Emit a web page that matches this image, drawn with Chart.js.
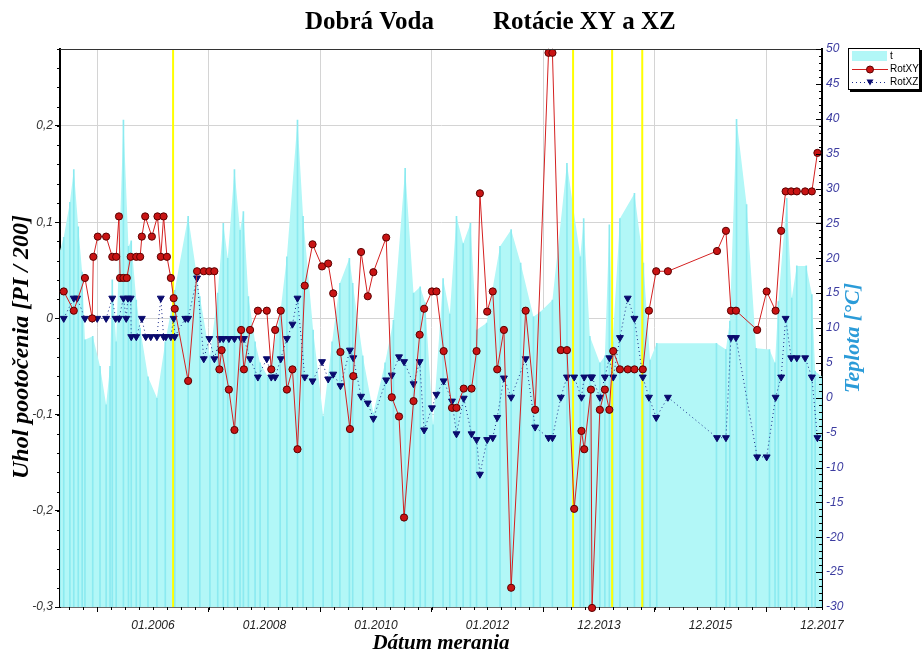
<!DOCTYPE html>
<html>
<head>
<meta charset="utf-8">
<title>Dobrá Voda – Rotácie XY a XZ</title>
<script src="https://cdn.jsdelivr.net/npm/chart.js@4/dist/chart.umd.min.js"></script>
<style>
  html, body { margin: 0; padding: 0; background: #fff; }
</style>
</head>
<body>
<canvas id="rot" width="922" height="655"></canvas>
<script>
// measurement dates (decimal years) and rotations [PI/200]
const xyDates = [
  2004.40, 2004.58, 2004.78, 2004.91, 2004.93, 2005.01, 2005.16, 2005.27, 2005.34, 2005.39,
  2005.41, 2005.47, 2005.53, 2005.60, 2005.70, 2005.77, 2005.80, 2005.86, 2005.98, 2006.08,
  2006.14, 2006.19, 2006.25, 2006.32, 2006.37, 2006.39, 2006.63, 2006.79, 2006.91, 2007.01,
  2007.10, 2007.19, 2007.23, 2007.36, 2007.46, 2007.58, 2007.63, 2007.74, 2007.88, 2008.04,
  2008.12, 2008.19, 2008.29, 2008.40, 2008.50, 2008.59, 2008.72, 2008.86, 2009.03, 2009.14,
  2009.23, 2009.36, 2009.53, 2009.59, 2009.73, 2009.85, 2009.95, 2010.18, 2010.28, 2010.41,
  2010.50, 2010.67, 2010.78, 2010.86, 2011.00, 2011.08, 2011.21, 2011.36, 2011.44, 2011.57,
  2011.71, 2011.80, 2011.86, 2011.99, 2012.09, 2012.17, 2012.29, 2012.42, 2012.68, 2012.85,
  2013.09, 2013.16, 2013.31, 2013.42, 2013.55, 2013.68, 2013.73, 2013.85, 2013.87, 2014.01,
  2014.10, 2014.18, 2014.25, 2014.37, 2014.51, 2014.63, 2014.78, 2014.89, 2015.02, 2015.23,
  2016.11, 2016.27, 2016.36, 2016.45, 2016.83, 2017.00, 2017.16, 2017.26, 2017.34, 2017.44,
  2017.54, 2017.69, 2017.81, 2017.91
];
const rotXY = [
  0.028, 0.008, 0.042, 0.000, 0.064, 0.085, 0.085, 0.064, 0.064, 0.106,
  0.042, 0.042, 0.042, 0.064, 0.064, 0.064, 0.085, 0.106, 0.085, 0.106,
  0.064, 0.106, 0.064, 0.042, 0.021, 0.010, -0.065, 0.049, 0.049, 0.049,
  0.049, -0.053, -0.033, -0.074, -0.116, -0.012, -0.053, -0.012, 0.008, 0.008,
  -0.053, -0.012, 0.008, -0.074, -0.053, -0.136, 0.034, 0.077, 0.054, 0.057,
  0.026, -0.035, -0.115, -0.060, 0.069, 0.023, 0.048, 0.084, -0.082, -0.102,
  -0.207, -0.086, -0.017, 0.010, 0.028, 0.028, -0.034, -0.093, -0.093, -0.073,
  -0.073, -0.034, 0.130, 0.007, 0.028, -0.053, -0.012, -0.280, 0.008, -0.095,
  0.276, 0.276, -0.033, -0.033, -0.198, -0.117, -0.136, -0.074, -0.301, -0.095,
  -0.074, -0.095, -0.034, -0.053, -0.053, -0.053, -0.053, 0.008, 0.049, 0.049,
  0.070, 0.091, 0.008, 0.008, -0.012, 0.028, 0.008, 0.091, 0.132, 0.132,
  0.132, 0.132, 0.132, 0.172
];
const xzDates = [
  2004.40, 2004.58, 2004.64, 2004.78, 2004.91, 2005.00, 2005.16, 2005.27, 2005.33, 2005.39,
  2005.47, 2005.52, 2005.55, 2005.60, 2005.61, 2005.70, 2005.80, 2005.87, 2005.96, 2006.07,
  2006.14, 2006.19, 2006.23, 2006.32, 2006.37, 2006.39, 2006.58, 2006.63, 2006.79, 2006.91,
  2007.01, 2007.10, 2007.20, 2007.26, 2007.36, 2007.46, 2007.58, 2007.63, 2007.74, 2007.88,
  2008.04, 2008.12, 2008.19, 2008.29, 2008.40, 2008.50, 2008.59, 2008.72, 2008.86, 2009.03,
  2009.14, 2009.23, 2009.36, 2009.53, 2009.59, 2009.73, 2009.85, 2009.95, 2010.18, 2010.28,
  2010.41, 2010.50, 2010.67, 2010.78, 2010.86, 2011.00, 2011.08, 2011.21, 2011.36, 2011.44,
  2011.57, 2011.71, 2011.80, 2011.86, 2011.99, 2012.09, 2012.17, 2012.29, 2012.42, 2012.68,
  2012.85, 2013.09, 2013.16, 2013.31, 2013.42, 2013.55, 2013.68, 2013.73, 2013.85, 2013.87,
  2014.01, 2014.10, 2014.18, 2014.25, 2014.37, 2014.51, 2014.63, 2014.78, 2014.89, 2015.02,
  2015.23, 2016.11, 2016.27, 2016.36, 2016.45, 2016.83, 2017.00, 2017.16, 2017.26, 2017.34,
  2017.44, 2017.54, 2017.69, 2017.81, 2017.91
];
const rotXZ = [
  0.000, 0.021, 0.021, 0.000, 0.000, 0.000, 0.000, 0.021, 0.000, 0.000,
  0.021, 0.000, 0.021, 0.021, -0.019, -0.019, 0.000, -0.019, -0.019, -0.019,
  0.021, -0.019, -0.019, -0.019, 0.000, -0.019, 0.000, 0.000, 0.042, -0.042,
  -0.021, -0.042, -0.021, -0.021, -0.021, -0.021, -0.021, -0.021, -0.042, -0.061,
  -0.042, -0.061, -0.061, -0.042, -0.021, -0.006, 0.021, -0.061, -0.065, -0.045,
  -0.063, -0.058, -0.070, -0.033, -0.041, -0.081, -0.088, -0.104, -0.064, -0.059,
  -0.040, -0.045, -0.068, -0.045, -0.116, -0.093, -0.079, -0.065, -0.086, -0.120,
  -0.083, -0.120, -0.126, -0.162, -0.126, -0.124, -0.103, -0.062, -0.082, -0.042,
  -0.113, -0.124, -0.124, -0.082, -0.061, -0.061, -0.082, -0.061, -0.061, -0.061,
  -0.082, -0.061, -0.041, -0.061, -0.020, 0.021, 0.000, -0.061, -0.082, -0.103,
  -0.082, -0.124, -0.124, -0.020, -0.020, -0.144, -0.144, -0.082, -0.061, 0.000,
  -0.041, -0.041, -0.041, -0.061, -0.124
];

// air temperature t [°C]
const tempDates = [
  2004.33, 2004.40, 2004.51, 2004.58, 2004.66, 2004.73, 2004.78, 2004.92, 2005.05, 2005.16,
  2005.23, 2005.27, 2005.34, 2005.47, 2005.56, 2005.61, 2005.70, 2005.77, 2005.91, 2006.07,
  2006.22, 2006.39, 2006.63, 2006.84, 2007.02, 2007.16, 2007.26, 2007.34, 2007.46, 2007.56,
  2007.62, 2007.71, 2007.83, 2007.92, 2008.06, 2008.28, 2008.40, 2008.59, 2008.69, 2008.87,
  2009.05, 2009.21, 2009.35, 2009.52, 2009.58, 2009.76, 2009.95, 2010.16, 2010.31, 2010.52,
  2010.67, 2010.79, 2010.88, 2011.02, 2011.20, 2011.32, 2011.44, 2011.56, 2011.69, 2011.80,
  2011.98, 2012.22, 2012.42, 2012.59, 2012.82, 2012.94, 2013.16, 2013.42, 2013.66, 2013.72,
  2013.83, 2014.01, 2014.10, 2014.18, 2014.24, 2014.37, 2014.63, 2014.79, 2014.91, 2015.03,
  2016.10, 2016.27, 2016.34, 2016.46, 2016.64, 2016.81, 2017.05, 2017.15, 2017.21, 2017.36,
  2017.45, 2017.54, 2017.71, 2017.81, 2017.87, 2017.99
];
const tempValues = [
  21, 23, 28, 32.7, 24.5, 18, 8.3, 8.8, 4.5, -1,
  4.5, 16.9, 8, 39.8, 21.7, 22.5, 14, 10, 3, 0,
  8, 15.4, 26, 14.5, 6, 15, 25, 20, 32.7, 24,
  26.7, 14.5, 8, 5, 3, 12, 20.2, 39.8, 26, 9.7,
  -2.7, 8, 16.4, 20, 16.4, 6, -2.2, 5, 11.1, 32.9,
  15, 15.9, 13.6, -3.9, 17.1, 12, 26, 22.1, 25, 9.7,
  10.7, 21.7, 24.1, 19.3, 11.6, 12.3, 14, 33.6, 20.2, 25.7,
  8.8, 5, 6, 24.8, 8, 25.7, 29.3, 19.3, 5.4, 7.8,
  7.8, 6.9, 11, 39.9, 27.7, 7.1, 6.9, 5, 13.8, 28.6,
  14.3, 18.9, 18.9, 14.8, 3.8, 3
];

// dates marked with vertical lines
const markerDates = [2006.36, 2013.53, 2014.23, 2014.77];

// axis ticks
const xTickYears = [2006, 2007.9986, 2009.9973, 2011.9959, 2013.9945, 2015.9932, 2017.9918];
const xTickLabels = ['01.2006', '01.2008', '01.2010', '01.2012', '12.2013', '12.2015', '12.2017'];
const rotTicks = [-0.3, -0.2, -0.1, 0, 0.1, 0.2];
const rotTickLabels = ['-0,3', '-0,2', '-0,1', '0', '0,1', '0,2'];
const tempTicks = [-30, -25, -20, -15, -10, -5, 0, 5, 10, 15, 20, 25, 30, 35, 40, 45, 50];

const X_MIN = 2004.333, X_MAX = 2017.992;
const ROT_MIN = -0.3, ROT_MAX = 0.28;

const pts = (xs, ys) => xs.map((d, i) => ({ x: d, y: ys[i] }));

const SANS = '"Liberation Sans", Arial, sans-serif';
const SERIF = '"Liberation Serif", "Times New Roman", serif';
const AREA = 'rgb(178, 247, 247)';
const STRIPE = 'rgb(140, 234, 240)';
const XY_LINE = '#d42020', XY_FILL = '#c81414', XY_EDGE = '#5a0000';
const XZ_LINE = '#1a2a8a', XZ_FILL = '#0a0a6e';

// vertical marker lines spanning the whole rotation axis
const markerSets = markerDates.map(d => ({
  type: 'line',
  data: [{ x: d, y: ROT_MIN }, { x: d, y: ROT_MAX }],
  yAxisID: 'y',
  borderColor: '#ffff00',
  borderWidth: 2,
  pointRadius: 0,
  order: 3
}));

// frame, minor ticks, titles and legend
const decor = {
  id: 'decor',
  afterDraw(chart) {
    const { ctx, chartArea: a, scales } = chart;
    const x = scales.x, y = scales.y, y2 = scales.y2;
    ctx.save();

    ctx.strokeStyle = '#333';
    ctx.lineWidth = 1;
    ctx.beginPath();
    ctx.moveTo(a.left, a.top + 0.5);
    ctx.lineTo(a.right, a.top + 0.5);
    ctx.stroke();

    ctx.strokeStyle = '#000';
    ctx.beginPath();
    // minor ticks: x outward, left axis outward
    const xStep = (xTickYears[1] - xTickYears[0]) / 8;
    for (let k = -8; k <= 56; k++) {
      const v = xTickYears[0] + k * xStep;
      if (v < X_MIN || v > X_MAX + 1e-6) continue;
      const px = Math.round(x.getPixelForValue(v)) + 0.5;
      ctx.moveTo(px, a.bottom);
      ctx.lineTo(px, a.bottom + 3);
    }
    for (let k = 0; k <= 29; k++) {
      const py = Math.round(y.getPixelForValue(ROT_MIN + k * 0.02)) + 0.5;
      ctx.moveTo(a.left - 3, py);
      ctx.lineTo(a.left, py);
    }
    // temperature axis ticks point into the plot
    for (let v = -30; v <= 50; v++) {
      const py = Math.round(y2.getPixelForValue(v)) + 0.5;
      const len = v % 5 === 0 ? 6 : 3;
      ctx.moveTo(a.right - len, py);
      ctx.lineTo(a.right, py);
    }
    ctx.stroke();

    // chart title
    ctx.fillStyle = '#000';
    ctx.textBaseline = 'middle';
    ctx.textAlign = 'left';
    ctx.font = 'bold 25px ' + SERIF;
    ctx.fillText('Dobrá Voda', 305, 23);
    ctx.fillText('Rotácie XY a XZ', 493, 23);

    // axis titles
    ctx.textAlign = 'center';
    ctx.font = 'bold italic 21px ' + SERIF;
    ctx.fillText('Dátum merania', 441, 644);

    ctx.save();
    ctx.translate(22, 347);
    ctx.rotate(-Math.PI / 2);
    ctx.font = 'bold italic 24px ' + SERIF;
    ctx.fillText('Uhol pootočenia [PI / 200]', 0, 0);
    ctx.restore();

    ctx.save();
    ctx.translate(853, 338);
    ctx.rotate(-Math.PI / 2);
    ctx.font = 'bold italic 22px ' + SERIF;
    ctx.fillStyle = '#2b9bd8';
    ctx.fillText('Teplota [°C]', 0, 0);
    ctx.restore();

    // legend box with drop shadow
    const lx = 848, ly = 48, lw = 71, lh = 41;
    ctx.fillStyle = '#000';
    ctx.fillRect(lx + 2, ly + 2, lw + 1, lh + 1);
    ctx.fillStyle = '#fff';
    ctx.fillRect(lx, ly, lw, lh);
    ctx.strokeStyle = '#000';
    ctx.lineWidth = 1;
    ctx.strokeRect(lx + 0.5, ly + 0.5, lw, lh);

    const row1 = ly + 8, row2 = ly + 21.5, row3 = ly + 34.5;
    ctx.fillStyle = AREA;
    ctx.fillRect(lx + 4, ly + 3, 35, 10);

    ctx.strokeStyle = XY_LINE;
    ctx.beginPath();
    ctx.moveTo(lx + 4, row2);
    ctx.lineTo(lx + 40, row2);
    ctx.stroke();
    ctx.fillStyle = XY_FILL;
    ctx.strokeStyle = XY_EDGE;
    ctx.beginPath();
    ctx.arc(lx + 22, row2, 3.5, 0, Math.PI * 2);
    ctx.fill();
    ctx.stroke();

    ctx.strokeStyle = XZ_LINE;
    ctx.setLineDash([1, 3]);
    ctx.beginPath();
    ctx.moveTo(lx + 4, row3);
    ctx.lineTo(lx + 40, row3);
    ctx.stroke();
    ctx.setLineDash([]);
    ctx.fillStyle = XZ_FILL;
    ctx.beginPath();
    ctx.moveTo(lx + 18.5, row3 - 3);
    ctx.lineTo(lx + 25.5, row3 - 3);
    ctx.lineTo(lx + 22, row3 + 3);
    ctx.closePath();
    ctx.fill();

    ctx.fillStyle = '#000';
    ctx.textAlign = 'left';
    ctx.font = '10px ' + SANS;
    ctx.fillText('t', lx + 42, row1);
    ctx.fillText('RotXY', lx + 42, row2);
    ctx.fillText('RotXZ', lx + 42, row3);

    ctx.restore();
  }
};

const tickFont = { family: SANS, size: 12, style: 'italic' };

new Chart(document.getElementById('rot'), {
  type: 'line',
  data: {
    datasets: [
      {
        label: 'RotXY',
        data: pts(xyDates, rotXY),
        yAxisID: 'y',
        borderColor: XY_LINE,
        borderWidth: 1,
        pointStyle: 'circle',
        pointRadius: 3.6,
        pointBackgroundColor: XY_FILL,
        pointBorderColor: XY_EDGE,
        pointBorderWidth: 1,
        clip: false,
        order: 1
      },
      {
        label: 'RotXZ',
        data: pts(xzDates, rotXZ),
        yAxisID: 'y',
        borderColor: XZ_LINE,
        borderWidth: 1,
        borderDash: [1, 3],
        pointStyle: 'triangle',
        pointRotation: 180,
        pointRadius: 4,
        pointBackgroundColor: XZ_FILL,
        pointBorderColor: XZ_FILL,
        pointBorderWidth: 1,
        clip: false,
        order: 2
      },
      ...markerSets,
      {
        type: 'bar',
        label: 't stripes',
        data: tempDates.map((d, i) => ({ x: d, y: [-30, tempValues[i]] })),
        yAxisID: 'y2',
        backgroundColor: STRIPE,
        barThickness: 1,
        grouped: false,
        order: 4
      },
      {
        label: 't',
        data: pts(tempDates, tempValues),
        yAxisID: 'y2',
        borderWidth: 0,
        borderColor: AREA,
        backgroundColor: AREA,
        pointRadius: 0,
        fill: 'start',
        order: 5
      }
    ]
  },
  options: {
    responsive: false,
    animation: false,
    devicePixelRatio: 1,
    layout: { padding: { top: 49, left: 0, right: 0, bottom: 0 } },
    plugins: { legend: { display: false }, tooltip: { enabled: false }, title: { display: false } },
    scales: {
      x: {
        type: 'linear',
        min: X_MIN,
        max: X_MAX,
        offset: false,
        afterBuildTicks: s => { s.ticks = xTickYears.map(v => ({ value: v })); },
        afterFit: s => { s.height = 48; },
        ticks: {
          autoSkip: false,
          maxRotation: 0,
          padding: 6,
          color: '#222',
          font: tickFont,
          callback: (v, i) => xTickLabels[i]
        },
        grid: { color: '#d4d4d4', tickColor: '#000', tickLength: 5 },
        border: { color: '#000', width: 1.5 }
      },
      y: {
        position: 'left',
        min: ROT_MIN,
        max: ROT_MAX,
        afterBuildTicks: s => { s.ticks = rotTicks.map(v => ({ value: v })); },
        afterFit: s => { s.width = 60; },
        ticks: {
          padding: 2,
          color: '#333',
          font: tickFont,
          callback: (v, i) => rotTickLabels[i]
        },
        grid: { color: '#d4d4d4', tickColor: '#000', tickLength: 5 },
        border: { color: '#000', width: 2 }
      },
      y2: {
        position: 'right',
        min: -30,
        max: 50,
        beginAtZero: false,
        afterBuildTicks: s => { s.ticks = tempTicks.map(v => ({ value: v })); },
        afterFit: s => { s.width = 100; },
        ticks: {
          padding: 4,
          color: '#3c3ca0',
          font: tickFont,
          callback: v => String(v)
        },
        grid: { drawOnChartArea: false, drawTicks: false },
        border: { color: '#000', width: 2 }
      }
    }
  },
  plugins: [decor]
});
</script>
</body>
</html>
